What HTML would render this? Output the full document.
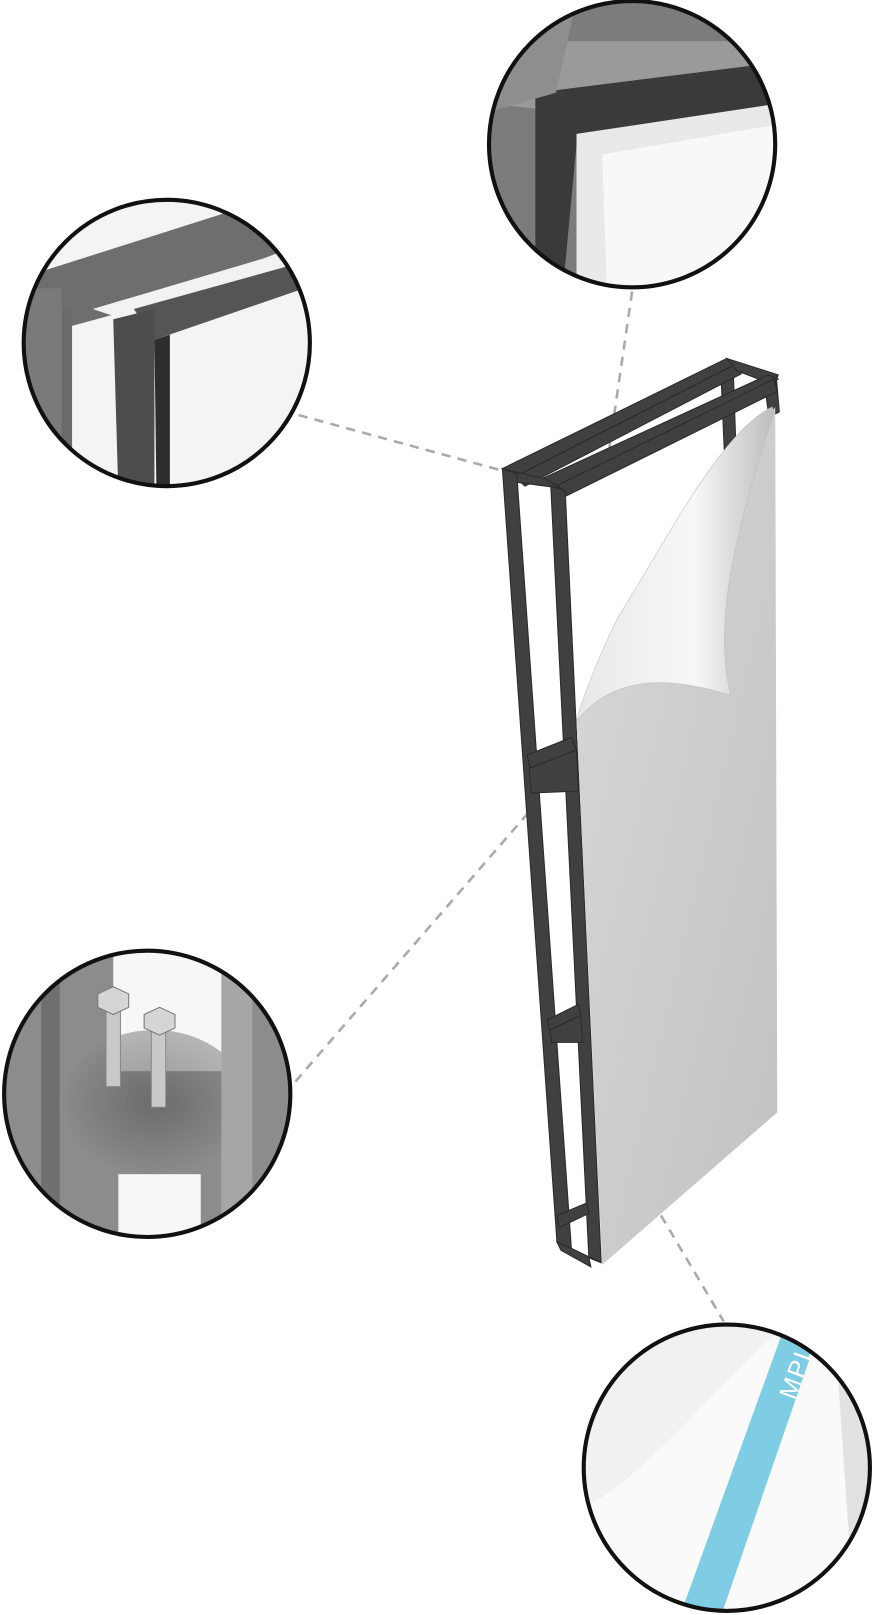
<!DOCTYPE html>
<html><head><style>
html,body{margin:0;padding:0;background:#fff;}
svg{display:block;}
</style></head><body>
<svg width="873" height="1615" viewBox="0 0 848 1568" preserveAspectRatio="none" xmlns="http://www.w3.org/2000/svg">
<defs>
<linearGradient id="curl" x1="0" y1="0" x2="1" y2="0">
<stop offset="0" stop-color="#e8e8e8"/><stop offset="0.6" stop-color="#f7f7f7"/><stop offset="1" stop-color="#bdbdbd"/>
</linearGradient>
<linearGradient id="panel" x1="0" y1="0" x2="1" y2="1">
<stop offset="0" stop-color="#d8d8d8"/><stop offset="1" stop-color="#c2c2c2"/>
</linearGradient>
<radialGradient id="bolt" cx="0.5" cy="0.5" r="0.5"><stop offset="0" stop-color="#555"/><stop offset="1" stop-color="#8a8a8a"/></radialGradient>
<clipPath id="c1"><circle cx="614" cy="140" r="139"/></clipPath>
<clipPath id="c2"><circle cx="162" cy="333" r="139"/></clipPath>
<clipPath id="c3"><circle cx="143" cy="1062" r="139"/></clipPath>
<clipPath id="c4"><circle cx="706" cy="1425" r="139"/></clipPath>
</defs>

<g stroke="#aaa" stroke-width="2.5" stroke-dasharray="9,7" fill="none">
<line x1="290" y1="403" x2="488" y2="457"/>
<line x1="614" y1="283" x2="590" y2="448"/>
<line x1="287" y1="1050" x2="515" y2="787"/>
<line x1="642" y1="1180" x2="703" y2="1283"/>
</g>

<g fill="#404040" stroke="#2a2a2a" stroke-width="1">
<polygon points="700,356 712,352 716,468 705,472"/>
<polygon points="742,370 754,365 757,400 747,405"/>
<polygon points="488,455 706,348 716,353 500,463"/>
<polygon points="500,463 716,353 720,363 510,472"/>
<polygon points="706,348 756,364 752,374 716,360"/>
<polygon points="528,464 746,364 756,368 545,474"/>
<polygon points="540,472 752,368 755,380 547,483"/>
<polygon points="488,455 530,465 545,474 500,468"/>
<polygon points="488,455 502,460 555,1212 541,1206"/>
<polygon points="535,472 549,476 584,1226 572,1221"/>
<polygon points="541,1206 555,1212 584,1226 572,1221 574,1230 545,1214"/>
<polygon points="512,733 555,716 560,728 515,746"/>
<polygon points="514,746 560,728 562,768 516,770"/>
<polygon points="532,990 562,975 564,986 534,1000"/>
<polygon points="534,1000 564,986 566,1012 536,1012"/>
<polygon points="541,1180 570,1168 572,1178 543,1192"/>
</g>

<polygon points="560,700 753,395 755,1080 585,1228" fill="url(#panel)"/>
<path d="M560,700 C600,650 660,660 710,675 C690,600 720,500 752,400 L750,395 C700,420 650,520 600,600 C580,640 565,680 560,700 Z" fill="url(#curl)" stroke="#bbb" stroke-width="0.5"/>

<g clip-path="url(#c1)">
<rect x="470" y="0" width="300" height="290" fill="#7c7c7c"/>
<polygon points="470,40 760,40 760,100 620,100 560,110 470,100" fill="#9a9a9a"/>
<polygon points="520,90 760,60 760,110 560,140 545,300 520,300" fill="#3a3a3a"/>
<polygon points="560,130 760,100 760,300 560,300" fill="#e9e9e9"/>
<polygon points="585,150 760,120 760,300 590,300" fill="#f8f8f8"/>
<polygon points="470,0 560,0 540,90 470,110" fill="#8e8e8e"/>
</g>
<circle cx="614" cy="140" r="139" fill="none" stroke="#111" stroke-width="4"/>

<g clip-path="url(#c2)">
<rect x="20" y="190" width="290" height="290" fill="#f4f4f4"/>
<polygon points="20,270 240,200 310,200 310,230 130,300 20,330" fill="#6e6e6e"/>
<polygon points="90,300 310,235 310,260 150,320" fill="#f2f2f2"/>
<polygon points="130,300 310,250 310,275 150,330" fill="#555"/>
<polygon points="40,300 70,300 70,480 40,480" fill="#6a6a6a"/>
<polygon points="110,310 150,300 150,480 115,480" fill="#4d4d4d"/>
<polygon points="150,330 165,325 165,480 152,480" fill="#2e2e2e"/>
<polygon points="20,280 60,280 60,480 20,480" fill="#7a7a7a"/>
</g>
<circle cx="162" cy="333" r="139" fill="none" stroke="#111" stroke-width="4"/>

<g clip-path="url(#c3)">
<rect x="0" y="920" width="290" height="290" fill="#8c8c8c"/>
<rect x="110" y="920" width="110" height="120" fill="#f7f7f7"/>
<rect x="115" y="1140" width="80" height="70" fill="#f7f7f7"/>
<ellipse cx="150" cy="1070" rx="90" ry="70" fill="url(#bolt)" opacity="0.6"/>
<rect x="40" y="920" width="18" height="290" fill="#6f6f6f"/>
<rect x="215" y="920" width="30" height="290" fill="#a6a6a6"/>
<rect x="103" y="975" width="14" height="80" fill="#c9c9c9" stroke="#888"/>
<rect x="147" y="995" width="14" height="80" fill="#c9c9c9" stroke="#888"/>
<polygon points="95,965 110,958 125,965 125,978 110,985 95,978" fill="#d5d5d5" stroke="#777"/>
<polygon points="140,985 155,978 170,985 170,998 155,1005 140,998" fill="#d5d5d5" stroke="#777"/>
</g>
<circle cx="143" cy="1062" r="139" fill="none" stroke="#111" stroke-width="4"/>

<g clip-path="url(#c4)">
<rect x="560" y="1280" width="300" height="290" fill="#f1f1f1"/>
<path d="M575,1460 C640,1420 700,1340 760,1290 L860,1290 L860,1570 L575,1570 Z" fill="#fafafa"/>
<polygon points="765,1280 800,1280 700,1570 660,1570" fill="#7fcde4"/>
<text x="0" y="0" transform="translate(772,1360) rotate(-70)" font-family="Liberation Sans, sans-serif" font-size="24" fill="#fff" letter-spacing="2">MPLE</text>
<polygon points="810,1280 860,1280 860,1570 830,1570" fill="#e2e2e2"/>
</g>
<circle cx="706" cy="1425" r="139" fill="none" stroke="#111" stroke-width="4"/>
</svg>
</body></html>
